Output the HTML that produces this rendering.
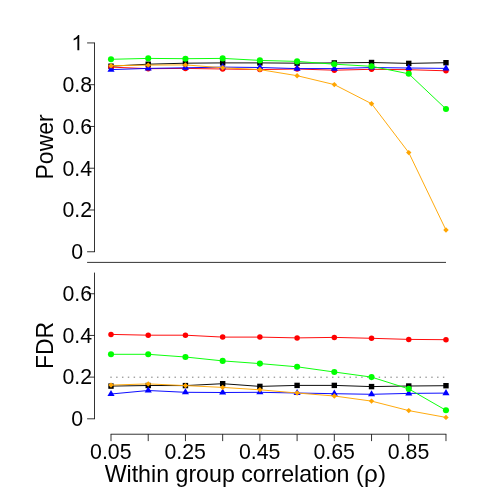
<!DOCTYPE html>
<html><head><meta charset="utf-8"><title>Chart</title>
<style>
html,body{margin:0;padding:0;background:#fff;}
body{width:490px;height:490px;overflow:hidden;font-family:"Liberation Sans",sans-serif;}
svg{display:block;}
</style></head><body>
<svg width="490" height="490" viewBox="0 0 490 490">
<rect width="490" height="490" fill="#fff"/>
<g stroke="#000" stroke-width="0.8" fill="none" stroke-linecap="butt">
<line x1="94.5" y1="42.56" x2="94.5" y2="252.12"/>
<line x1="87.1" y1="251.75" x2="94.5" y2="251.75"/>
<line x1="87.1" y1="209.99" x2="94.5" y2="209.99"/>
<line x1="87.1" y1="168.22" x2="94.5" y2="168.22"/>
<line x1="87.1" y1="126.46" x2="94.5" y2="126.46"/>
<line x1="87.1" y1="84.69" x2="94.5" y2="84.69"/>
<line x1="87.1" y1="42.93" x2="94.5" y2="42.93"/>
<line x1="87.1" y1="262.4" x2="446" y2="262.4"/>
<line x1="94.5" y1="272.6" x2="94.5" y2="419.17"/>
<line x1="87.1" y1="418.80" x2="94.5" y2="418.80"/>
<line x1="87.1" y1="377.12" x2="94.5" y2="377.12"/>
<line x1="87.1" y1="335.44" x2="94.5" y2="335.44"/>
<line x1="87.1" y1="293.76" x2="94.5" y2="293.76"/>
<line x1="110.63" y1="434.22" x2="446.35" y2="434.22"/>
<line x1="111.00" y1="434.22" x2="111.00" y2="441.12"/>
<line x1="148.22" y1="434.22" x2="148.22" y2="441.12"/>
<line x1="185.44" y1="434.22" x2="185.44" y2="441.12"/>
<line x1="222.66" y1="434.22" x2="222.66" y2="441.12"/>
<line x1="259.88" y1="434.22" x2="259.88" y2="441.12"/>
<line x1="297.10" y1="434.22" x2="297.10" y2="441.12"/>
<line x1="334.32" y1="434.22" x2="334.32" y2="441.12"/>
<line x1="371.54" y1="434.22" x2="371.54" y2="441.12"/>
<line x1="408.76" y1="434.22" x2="408.76" y2="441.12"/>
<line x1="445.98" y1="434.22" x2="445.98" y2="441.12"/>
</g>
<line x1="110.3" y1="377.2" x2="446.78000000000003" y2="377.2" stroke="#7a7a7a" stroke-width="1" stroke-dasharray="1.46 4.375"/>
<g font-family="Liberation Sans, sans-serif" font-size="21.3px" fill="#000" text-anchor="middle" opacity="0.999">
<text x="77.25" y="259.05">0</text>
<text x="77.25" y="217.29">0.2</text>
<text x="77.25" y="175.52">0.4</text>
<text x="77.25" y="133.76">0.6</text>
<text x="77.25" y="91.99">0.8</text>
<path transform="translate(71.33,50.23) scale(0.01040,-0.01040)" d="M763 0H583V1147Q518 1085 412.5 1023Q307 961 223 930V1104Q374 1175 487 1276Q600 1377 647 1472H763Z" fill="#000" stroke="none"/>
<text x="77.25" y="426.10">0</text>
<text x="77.25" y="384.42">0.2</text>
<text x="77.25" y="342.74">0.4</text>
<text x="77.25" y="301.06">0.6</text>
<text x="110.80" y="458.9">0.05</text>
<text x="185.24" y="458.9">0.25</text>
<text x="259.68" y="458.9">0.45</text>
<text x="334.12" y="458.9">0.65</text>
<text x="408.56" y="458.9">0.85</text>
</g>
<g font-family="Liberation Sans, sans-serif" font-size="23.2px" fill="#000" text-anchor="middle" opacity="0.999">
<text x="245.3" y="481.7">Within group correlation (<tspan font-size="24.2px" dx="0.4">ρ</tspan><tspan dx="0.4">)</tspan></text>
<text font-size="23px" transform="translate(52.6,146.9) rotate(-90)">Power</text>
<text font-size="23px" transform="translate(52.6,345.4) rotate(-90)">FDR</text>
</g>
<polyline points="111.00,66.20 148.22,64.20 185.44,63.20 222.66,62.90 259.88,62.90 297.10,63.20 334.32,62.90 371.54,62.50 408.76,63.40 445.98,62.70" fill="none" stroke="#000000" stroke-width="0.95"/>
<rect x="108.30" y="63.50" width="5.40" height="5.40" fill="#000000"/>
<rect x="145.52" y="61.50" width="5.40" height="5.40" fill="#000000"/>
<rect x="182.74" y="60.50" width="5.40" height="5.40" fill="#000000"/>
<rect x="219.96" y="60.20" width="5.40" height="5.40" fill="#000000"/>
<rect x="257.18" y="60.20" width="5.40" height="5.40" fill="#000000"/>
<rect x="294.40" y="60.50" width="5.40" height="5.40" fill="#000000"/>
<rect x="331.62" y="60.20" width="5.40" height="5.40" fill="#000000"/>
<rect x="368.84" y="59.80" width="5.40" height="5.40" fill="#000000"/>
<rect x="406.06" y="60.70" width="5.40" height="5.40" fill="#000000"/>
<rect x="443.28" y="60.00" width="5.40" height="5.40" fill="#000000"/>
<polyline points="111.00,67.10 148.22,68.70 185.44,68.40 222.66,69.00 259.88,69.60 297.10,69.00 334.32,70.20 371.54,69.30 408.76,69.70 445.98,70.80" fill="none" stroke="#ff0000" stroke-width="0.95"/>
<circle cx="111.00" cy="67.10" r="2.75" fill="#ff0000"/>
<circle cx="148.22" cy="68.70" r="2.75" fill="#ff0000"/>
<circle cx="185.44" cy="68.40" r="2.75" fill="#ff0000"/>
<circle cx="222.66" cy="69.00" r="2.75" fill="#ff0000"/>
<circle cx="259.88" cy="69.60" r="2.75" fill="#ff0000"/>
<circle cx="297.10" cy="69.00" r="2.75" fill="#ff0000"/>
<circle cx="334.32" cy="70.20" r="2.75" fill="#ff0000"/>
<circle cx="371.54" cy="69.30" r="2.75" fill="#ff0000"/>
<circle cx="408.76" cy="69.70" r="2.75" fill="#ff0000"/>
<circle cx="445.98" cy="70.80" r="2.75" fill="#ff0000"/>
<polyline points="111.00,69.60 148.22,68.40 185.44,67.80 222.66,67.10 259.88,67.50 297.10,68.60 334.32,68.60 371.54,67.50 408.76,68.00 445.98,68.40" fill="none" stroke="#0000ff" stroke-width="0.95"/>
<polygon points="111.00,65.50 114.55,71.65 107.45,71.65" fill="#0000ff"/>
<polygon points="148.22,64.30 151.77,70.45 144.67,70.45" fill="#0000ff"/>
<polygon points="185.44,63.70 188.99,69.85 181.89,69.85" fill="#0000ff"/>
<polygon points="222.66,63.00 226.21,69.15 219.11,69.15" fill="#0000ff"/>
<polygon points="259.88,63.40 263.43,69.55 256.33,69.55" fill="#0000ff"/>
<polygon points="297.10,64.50 300.65,70.65 293.55,70.65" fill="#0000ff"/>
<polygon points="334.32,64.50 337.87,70.65 330.77,70.65" fill="#0000ff"/>
<polygon points="371.54,63.40 375.09,69.55 367.99,69.55" fill="#0000ff"/>
<polygon points="408.76,63.90 412.31,70.05 405.21,70.05" fill="#0000ff"/>
<polygon points="445.98,64.30 449.53,70.45 442.43,70.45" fill="#0000ff"/>
<polyline points="111.00,59.30 148.22,58.40 185.44,58.70 222.66,58.40 259.88,60.40 297.10,61.40 334.32,64.20 371.54,66.30 408.76,73.80 445.98,109.00" fill="none" stroke="#00ff00" stroke-width="0.95"/>
<circle cx="111.00" cy="59.30" r="3.05" fill="#00ff00"/>
<circle cx="148.22" cy="58.40" r="3.05" fill="#00ff00"/>
<circle cx="185.44" cy="58.70" r="3.05" fill="#00ff00"/>
<circle cx="222.66" cy="58.40" r="3.05" fill="#00ff00"/>
<circle cx="259.88" cy="60.40" r="3.05" fill="#00ff00"/>
<circle cx="297.10" cy="61.40" r="3.05" fill="#00ff00"/>
<circle cx="334.32" cy="64.20" r="3.05" fill="#00ff00"/>
<circle cx="371.54" cy="66.30" r="3.05" fill="#00ff00"/>
<circle cx="408.76" cy="73.80" r="3.05" fill="#00ff00"/>
<circle cx="445.98" cy="109.00" r="3.05" fill="#00ff00"/>
<polyline points="111.00,65.70 148.22,65.10 185.44,64.90 222.66,67.80 259.88,69.60 297.10,75.70 334.32,84.60 371.54,103.70 408.76,152.60 445.98,230.00" fill="none" stroke="#ffa500" stroke-width="0.95"/>
<polygon points="111.00,63.00 113.70,65.70 111.00,68.40 108.30,65.70" fill="#ffa500"/>
<polygon points="148.22,62.40 150.92,65.10 148.22,67.80 145.52,65.10" fill="#ffa500"/>
<polygon points="185.44,62.20 188.14,64.90 185.44,67.60 182.74,64.90" fill="#ffa500"/>
<polygon points="222.66,65.10 225.36,67.80 222.66,70.50 219.96,67.80" fill="#ffa500"/>
<polygon points="259.88,66.90 262.58,69.60 259.88,72.30 257.18,69.60" fill="#ffa500"/>
<polygon points="297.10,73.00 299.80,75.70 297.10,78.40 294.40,75.70" fill="#ffa500"/>
<polygon points="334.32,81.90 337.02,84.60 334.32,87.30 331.62,84.60" fill="#ffa500"/>
<polygon points="371.54,101.00 374.24,103.70 371.54,106.40 368.84,103.70" fill="#ffa500"/>
<polygon points="408.76,149.90 411.46,152.60 408.76,155.30 406.06,152.60" fill="#ffa500"/>
<polygon points="445.98,227.30 448.68,230.00 445.98,232.70 443.28,230.00" fill="#ffa500"/>
<polyline points="111.00,386.10 148.22,385.50 185.44,385.60 222.66,383.70 259.88,386.40 297.10,385.40 334.32,385.40 371.54,386.60 408.76,386.00 445.98,385.70" fill="none" stroke="#000000" stroke-width="0.95"/>
<rect x="108.30" y="383.40" width="5.40" height="5.40" fill="#000000"/>
<rect x="145.52" y="382.80" width="5.40" height="5.40" fill="#000000"/>
<rect x="182.74" y="382.90" width="5.40" height="5.40" fill="#000000"/>
<rect x="219.96" y="381.00" width="5.40" height="5.40" fill="#000000"/>
<rect x="257.18" y="383.70" width="5.40" height="5.40" fill="#000000"/>
<rect x="294.40" y="382.70" width="5.40" height="5.40" fill="#000000"/>
<rect x="331.62" y="382.70" width="5.40" height="5.40" fill="#000000"/>
<rect x="368.84" y="383.90" width="5.40" height="5.40" fill="#000000"/>
<rect x="406.06" y="383.30" width="5.40" height="5.40" fill="#000000"/>
<rect x="443.28" y="383.00" width="5.40" height="5.40" fill="#000000"/>
<polyline points="111.00,334.40 148.22,335.20 185.44,335.20 222.66,337.10 259.88,337.10 297.10,337.90 334.32,337.40 371.54,338.30 408.76,339.40 445.98,339.70" fill="none" stroke="#ff0000" stroke-width="0.95"/>
<circle cx="111.00" cy="334.40" r="2.75" fill="#ff0000"/>
<circle cx="148.22" cy="335.20" r="2.75" fill="#ff0000"/>
<circle cx="185.44" cy="335.20" r="2.75" fill="#ff0000"/>
<circle cx="222.66" cy="337.10" r="2.75" fill="#ff0000"/>
<circle cx="259.88" cy="337.10" r="2.75" fill="#ff0000"/>
<circle cx="297.10" cy="337.90" r="2.75" fill="#ff0000"/>
<circle cx="334.32" cy="337.40" r="2.75" fill="#ff0000"/>
<circle cx="371.54" cy="338.30" r="2.75" fill="#ff0000"/>
<circle cx="408.76" cy="339.40" r="2.75" fill="#ff0000"/>
<circle cx="445.98" cy="339.70" r="2.75" fill="#ff0000"/>
<polyline points="111.00,394.00 148.22,390.50 185.44,392.30 222.66,392.50 259.88,392.30 297.10,393.00 334.32,393.70 371.54,394.30 408.76,393.40 445.98,393.10" fill="none" stroke="#0000ff" stroke-width="0.95"/>
<polygon points="111.00,389.90 114.55,396.05 107.45,396.05" fill="#0000ff"/>
<polygon points="148.22,386.40 151.77,392.55 144.67,392.55" fill="#0000ff"/>
<polygon points="185.44,388.20 188.99,394.35 181.89,394.35" fill="#0000ff"/>
<polygon points="222.66,388.40 226.21,394.55 219.11,394.55" fill="#0000ff"/>
<polygon points="259.88,388.20 263.43,394.35 256.33,394.35" fill="#0000ff"/>
<polygon points="297.10,388.90 300.65,395.05 293.55,395.05" fill="#0000ff"/>
<polygon points="334.32,389.60 337.87,395.75 330.77,395.75" fill="#0000ff"/>
<polygon points="371.54,390.20 375.09,396.35 367.99,396.35" fill="#0000ff"/>
<polygon points="408.76,389.30 412.31,395.45 405.21,395.45" fill="#0000ff"/>
<polygon points="445.98,389.00 449.53,395.15 442.43,395.15" fill="#0000ff"/>
<polyline points="111.00,354.30 148.22,354.30 185.44,357.00 222.66,360.90 259.88,363.60 297.10,366.80 334.32,372.00 371.54,377.10 408.76,388.90 445.98,410.30" fill="none" stroke="#00ff00" stroke-width="0.95"/>
<circle cx="111.00" cy="354.30" r="3.05" fill="#00ff00"/>
<circle cx="148.22" cy="354.30" r="3.05" fill="#00ff00"/>
<circle cx="185.44" cy="357.00" r="3.05" fill="#00ff00"/>
<circle cx="222.66" cy="360.90" r="3.05" fill="#00ff00"/>
<circle cx="259.88" cy="363.60" r="3.05" fill="#00ff00"/>
<circle cx="297.10" cy="366.80" r="3.05" fill="#00ff00"/>
<circle cx="334.32" cy="372.00" r="3.05" fill="#00ff00"/>
<circle cx="371.54" cy="377.10" r="3.05" fill="#00ff00"/>
<circle cx="408.76" cy="388.90" r="3.05" fill="#00ff00"/>
<circle cx="445.98" cy="410.30" r="3.05" fill="#00ff00"/>
<polyline points="111.00,385.10 148.22,383.90 185.44,385.60 222.66,387.40 259.88,389.80 297.10,393.00 334.32,396.00 371.54,401.10 408.76,410.60 445.98,417.40" fill="none" stroke="#ffa500" stroke-width="0.95"/>
<polygon points="111.00,382.40 113.70,385.10 111.00,387.80 108.30,385.10" fill="#ffa500"/>
<polygon points="148.22,381.20 150.92,383.90 148.22,386.60 145.52,383.90" fill="#ffa500"/>
<polygon points="185.44,382.90 188.14,385.60 185.44,388.30 182.74,385.60" fill="#ffa500"/>
<polygon points="222.66,384.70 225.36,387.40 222.66,390.10 219.96,387.40" fill="#ffa500"/>
<polygon points="259.88,387.10 262.58,389.80 259.88,392.50 257.18,389.80" fill="#ffa500"/>
<polygon points="297.10,390.30 299.80,393.00 297.10,395.70 294.40,393.00" fill="#ffa500"/>
<polygon points="334.32,393.30 337.02,396.00 334.32,398.70 331.62,396.00" fill="#ffa500"/>
<polygon points="371.54,398.40 374.24,401.10 371.54,403.80 368.84,401.10" fill="#ffa500"/>
<polygon points="408.76,407.90 411.46,410.60 408.76,413.30 406.06,410.60" fill="#ffa500"/>
<polygon points="445.98,414.70 448.68,417.40 445.98,420.10 443.28,417.40" fill="#ffa500"/>
</svg>
</body></html>
